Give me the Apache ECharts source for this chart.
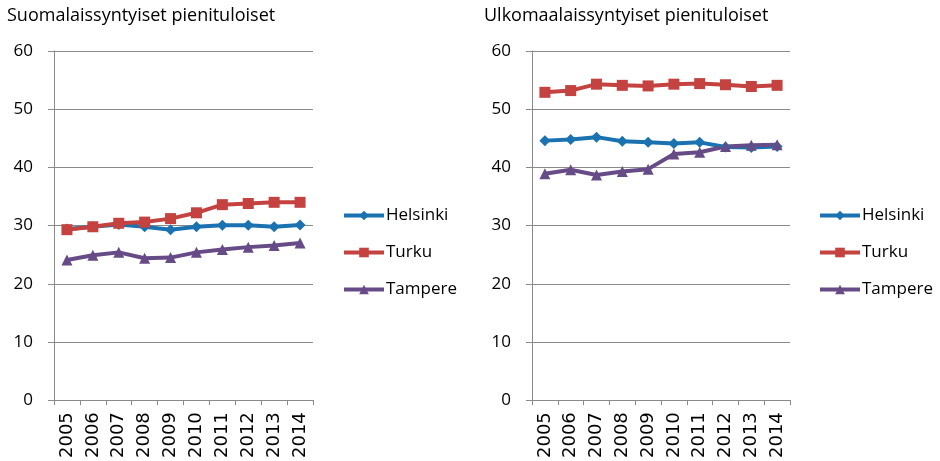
<!DOCTYPE html>
<html>
<head>
<meta charset="utf-8">
<script src="https://cdn.jsdelivr.net/npm/echarts@6/dist/echarts.min.js"></script>
<style>
  html, body { margin: 0; padding: 0; background: #fff; }
  #chart { width: 940px; height: 461px; }
</style>
</head>
<body>
<div id="chart"></div>
<script>
// vuodet
const years = ['2005', '2006', '2007', '2008', '2009', '2010', '2011', '2012', '2013', '2014'];
const seriesNames = ['Helsinki', 'Turku', 'Tampere'];
const yTicks = [0, 10, 20, 30, 40, 50, 60];

// Suomalaissyntyiset pienituloiset
const finHelsinki = [29.4, 29.8, 30.2, 29.8, 29.3, 29.8, 30.05, 30.05, 29.8, 30.1];
const finTurku = [29.3, 29.8, 30.4, 30.6, 31.2, 32.2, 33.6, 33.8, 34.0, 34.0];
const finTampere = [24.1, 24.9, 25.4, 24.4, 24.5, 25.4, 25.9, 26.3, 26.6, 27.0];

// Ulkomaalaissyntyiset pienituloiset
const forHelsinki = [44.6, 44.8, 45.2, 44.5, 44.3, 44.1, 44.3, 43.5, 43.4, 43.6];
const forTurku = [52.9, 53.2, 54.3, 54.1, 54.0, 54.3, 54.4, 54.2, 53.9, 54.1];
const forTampere = [38.9, 39.6, 38.7, 39.3, 39.7, 42.3, 42.6, 43.6, 43.8, 43.9];

const colors = ['#1a72b0', '#c4423f', '#664b86'];
const symbols = ['diamond', 'rect', 'triangle'];
const symbolSizes = [11, 11, 11];
const gridColor = '#8a8a8a';

const chart = echarts.init(document.getElementById('chart'));

function makeY(idx) {
    return {
        type: 'value',
        gridIndex: idx,
        min: yTicks[0],
        max: yTicks[yTicks.length - 1],
        interval: 10,
        axisLine: { show: true, lineStyle: { color: gridColor, width: 1 } },
        axisTick: { show: true, length: 6, lineStyle: { color: gridColor } },
        splitLine: { show: true, lineStyle: { color: gridColor, width: 1 } },
        axisLabel: { color: '#000', fontFamily: 'Open Sans', fontSize: 17, margin: 21 }
    };
}

function makeX(idx) {
    return {
        type: 'category',
        gridIndex: idx,
        data: years,
        boundaryGap: true,
        axisLine: { show: true, lineStyle: { color: gridColor, width: 1 } },
        axisTick: { show: true, length: 5, interval: 0, lineStyle: { color: gridColor } },
        axisLabel: { color: '#000', fontFamily: 'DejaVu Sans', fontSize: 18, rotate: 90, margin: 12, interval: 0 }
    };
}

function makeSeries(name, data, i, gi) {
    return {
        name: name,
        type: 'line',
        xAxisIndex: gi,
        yAxisIndex: gi,
        data: data,
        symbol: symbols[i],
        symbolSize: symbolSizes[i],
        showAllSymbol: true,
        lineStyle: { color: colors[i], width: 4 },
        itemStyle: { color: colors[i] },
        animation: false
    };
}

function makeLegend(left) {
    return {
        orient: 'vertical',
        left: left,
        top: 202,
        itemWidth: 40,
        itemHeight: 12,
        itemGap: 20,
        data: seriesNames,
        lineStyle: { width: 4 },
        textStyle: { color: '#000', fontFamily: 'Open Sans', fontSize: 17, padding: [0, 0, 0, -3] }
    };
}

const option = {
    animation: false,
    title: [
        { text: 'Suomalaissyntyiset pienituloiset', left: 2, top: 2,
          textStyle: { fontFamily: 'Open Sans', fontSize: 18, fontWeight: 'normal', color: '#000' } },
        { text: 'Ulkomaalaissyntyiset pienituloiset', left: 479, top: 2,
          textStyle: { fontFamily: 'Open Sans', fontSize: 18, fontWeight: 'normal', color: '#000' } }
    ],
    legend: [makeLegend(337), makeLegend(813)],
    grid: [
        { left: 54, top: 51, width: 259, height: 351 },
        { left: 532, top: 51, width: 258, height: 351 }
    ],
    xAxis: [makeX(0), makeX(1)],
    yAxis: [makeY(0), makeY(1)],
    series: [
        makeSeries('Helsinki', finHelsinki, 0, 0),
        makeSeries('Turku', finTurku, 1, 0),
        makeSeries('Tampere', finTampere, 2, 0),
        makeSeries('Helsinki', forHelsinki, 0, 1),
        makeSeries('Turku', forTurku, 1, 1),
        makeSeries('Tampere', forTampere, 2, 1)
    ]
};

chart.setOption(option);
</script>
</body>
</html>
